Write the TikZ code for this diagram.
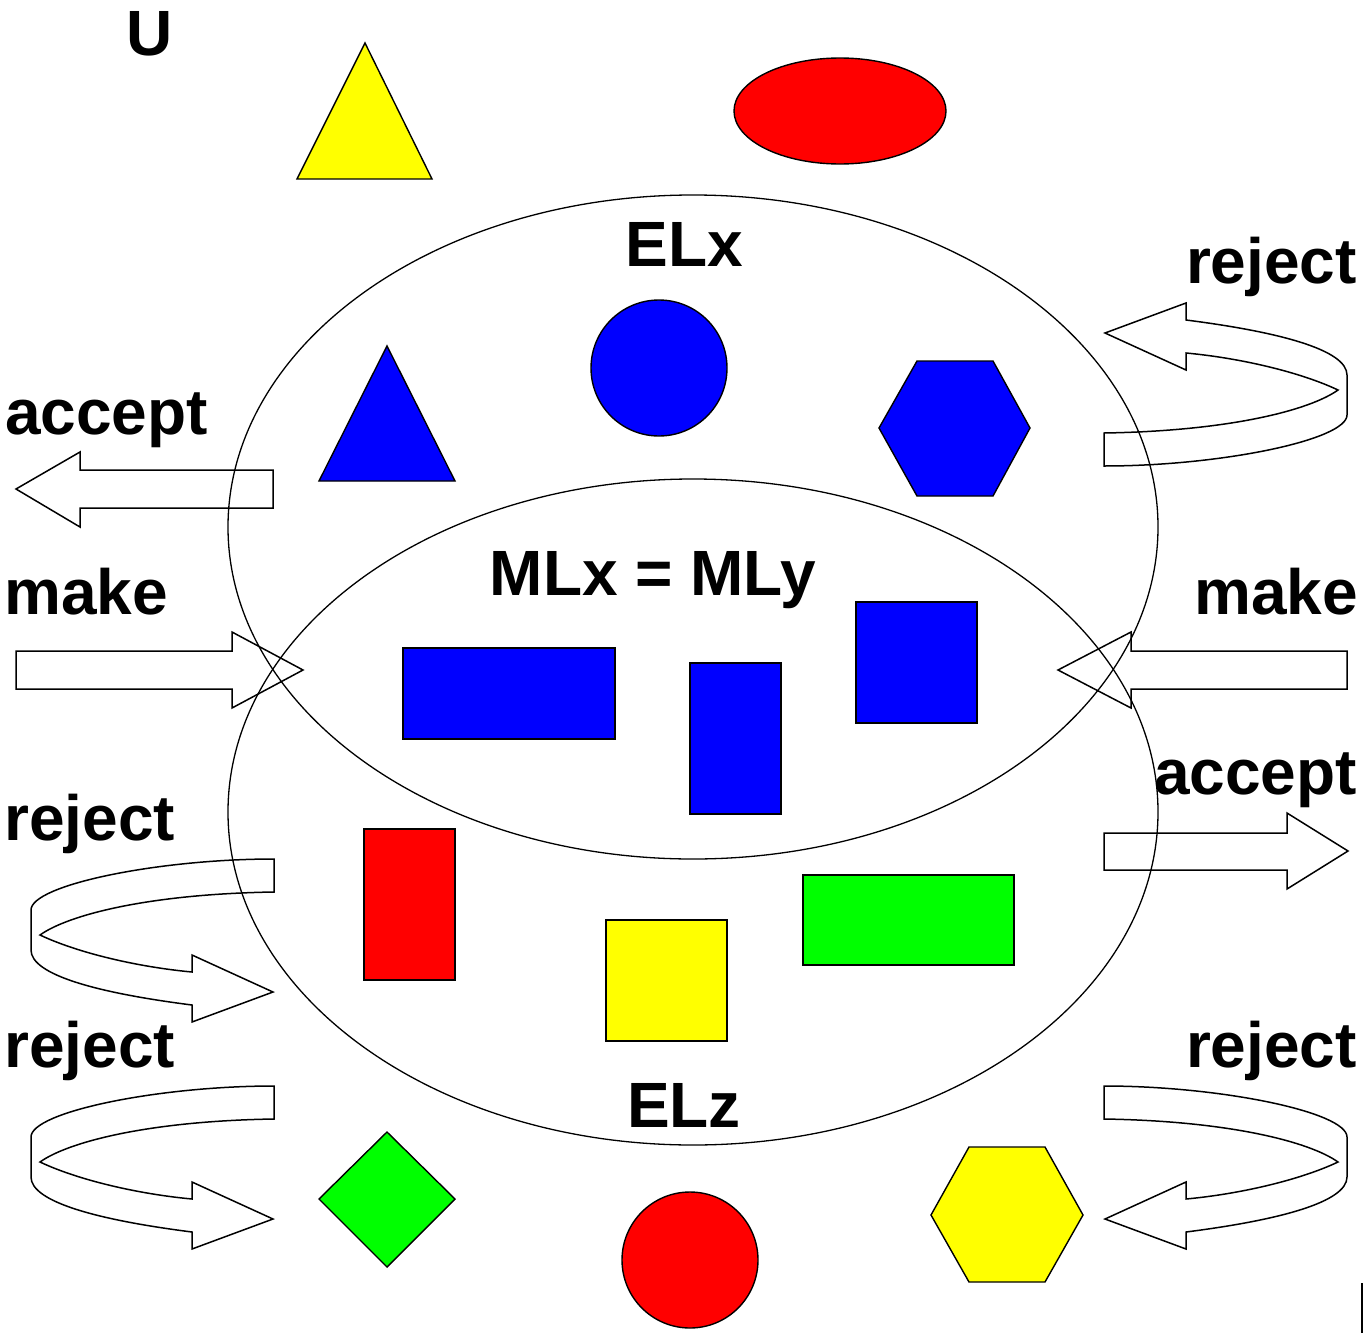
\documentclass[tikz,border=0pt]{standalone}
\usepackage{fontspec}
\setmainfont{Liberation Sans}
\definecolor{pRed}{RGB}{255,0,0}
\definecolor{pBlue}{RGB}{0,0,255}
\definecolor{pYellow}{RGB}{255,255,0}
\definecolor{pGreen}{RGB}{0,255,0}
\newcommand\rejpath{(1104,466) -- (1104,433) .. controls (1230,431) and (1310,410) .. (1338,390) .. controls (1300,372) and (1240,358) .. (1186,353) -- (1186,370) -- (1105,333) -- (1186,303) -- (1186,320) .. controls (1280,332) and (1347,350) .. (1347,375) -- (1347,415) .. controls (1347,440) and (1220,466) .. (1104,466) -- cycle}
\begin{document}
\begin{tikzpicture}[x=1pt,y=-1pt,
  lab/.style={font=\fontsize{64}{72}\selectfont\bfseries, inner sep=0pt},
  shp/.style={draw=black, line width=1.4pt, line join=miter},
  ell/.style={draw=black, line width=1.3pt},
  arw/.style={draw=black, line width=1.5pt, line join=miter}]
\useasboundingbox[fill=white] (0,0) rectangle (1363,1333);
% big ellipses
\draw[ell] (693,527) ellipse [x radius=465, y radius=332];
\draw[ell] (693,812) ellipse [x radius=465, y radius=333];
% shapes outside
\draw[shp, fill=pYellow] (365,43) -- (432,179) -- (297,179) -- cycle;
\draw[shp, fill=pRed] (840,111) ellipse [x radius=106, y radius=53];
% ELx shapes
\draw[shp, fill=pBlue] (387,346) -- (455,481) -- (319,481) -- cycle;
\draw[shp, fill=pBlue] (659,368) circle [radius=68];
\draw[shp, fill=pBlue] (879,428) -- (917,361) -- (993,361) -- (1030,428) -- (993,496) -- (917,496) -- cycle;
% ML shapes
\draw[shp, fill=pBlue] (403,648) rectangle (615,739);
\draw[shp, fill=pBlue] (690,663) rectangle (781,814);
\draw[shp, fill=pBlue] (856,602) rectangle (977,723);
% ELz shapes
\draw[shp, fill=pRed] (364,829) rectangle (455,980);
\draw[shp, fill=pYellow] (606,920) rectangle (727,1041);
\draw[shp, fill=pGreen] (803,875) rectangle (1014,965);
% outside bottom
\draw[shp, fill=pGreen] (387,1132) -- (455,1199) -- (387,1267) -- (319,1199) -- cycle;
\draw[shp, fill=pRed] (690,1260) circle [radius=68];
\draw[shp, fill=pYellow] (931,1215) -- (969,1147) -- (1045,1147) -- (1083,1215) -- (1045,1282) -- (969,1282) -- cycle;
% straight block arrows
\draw[arw] (273,470) -- (80,470) -- (80,452) -- (16,489) -- (80,527) -- (80,508) -- (273,508) -- cycle;
\draw[arw] (16,651) -- (232,651) -- (232,632) -- (303,670) -- (232,708) -- (232,689) -- (16,689) -- cycle;
\draw[arw] (1347,651) -- (1131,651) -- (1131,632) -- (1058,670) -- (1131,708) -- (1131,689) -- (1347,689) -- cycle;
\draw[arw] (1104,833) -- (1287,833) -- (1287,813) -- (1348,851) -- (1287,889) -- (1287,870) -- (1104,870) -- cycle;
% curved reject arrows
\draw[arw] \rejpath;
\begin{scope}[shift={(1378,1325)}, xscale=-1, yscale=-1]
\draw[arw] \rejpath;
\end{scope}
\begin{scope}[shift={(1378,1552)}, xscale=-1, yscale=-1]
\draw[arw] \rejpath;
\end{scope}
\begin{scope}[shift={(0,1552)}, yscale=-1]
\draw[arw] \rejpath;
\end{scope}
% small edge line
\draw[line width=1.5pt] (1362,1283) -- (1362,1333);
% labels
\node[lab, anchor=base] (tU) at (149.5,55) {U};
\node[lab, anchor=base] (tELx) at (684,266) {ELx};
\node[lab, anchor=base] (tML) at (653,595) {MLx = MLy};
\node[lab, anchor=base] (tELz) at (684,1127) {ELz};
\node[lab, anchor=base east] (tRej1) at (1357,283) {reject};
\node[lab, anchor=base west] (tAcc1) at (5,434) {accept};
\node[lab, anchor=base west] (tMake1) at (4,614) {make};
\node[lab, anchor=base east] (tMake2) at (1358,614) {make};
\node[lab, anchor=base east] (tAcc2) at (1357,794) {accept};
\node[lab, anchor=base west] (tRej2) at (4,840) {reject};
\node[lab, anchor=base west] (tRej3) at (4,1067) {reject};
\node[lab, anchor=base east] (tRej4) at (1357,1067) {reject};
\end{tikzpicture}
\end{document}
